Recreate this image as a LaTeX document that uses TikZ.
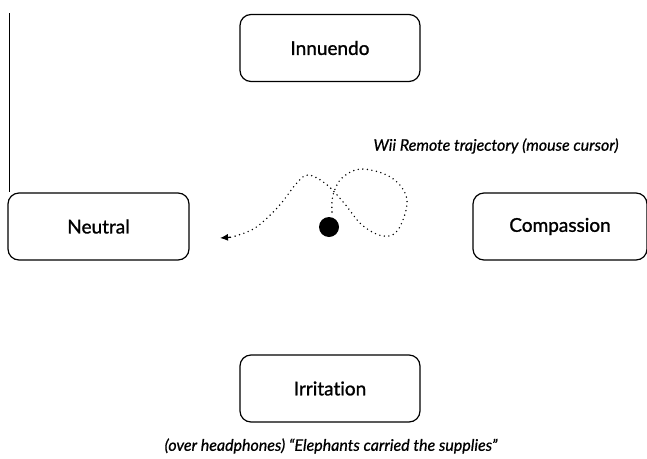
\documentclass[tikz,border=0pt]{standalone}
\usepackage{fontspec}
\setmainfont{Lato}
\newfontfamily\boxfont{Lato}[FakeBold=1.2,Ligatures=NoCommon]
\newfontfamily\lblfont{Lato}[FakeBold=0.8,Ligatures=NoCommon]
\usetikzlibrary{arrows.meta}
\begin{document}
\begin{tikzpicture}[x=1pt,y=-1pt,
  emobox/.style={draw=black,line width=1.2pt,rounded corners=11pt,minimum width=180pt,minimum height=67pt,font=\boxfont\fontsize{19}{21}\selectfont,inner sep=0pt},
  traj/.style={line width=1.6pt,dash pattern=on 0pt off 4.6pt,line cap=round},
  lbl/.style={font=\lblfont\itshape\fontsize{16}{18}\selectfont,inner sep=0pt}]
\useasboundingbox (0,0) rectangle (647,458);
\node[emobox] (innuendo) at (330,48) {Innuendo};
\node[emobox,minimum width=181pt] (neutral) at (98.5,226.5) {Neutral};
\node[emobox,minimum width=174pt] (compassion) at (560,226.5) {Compassion};
\node[emobox] (irritation) at (330,388.5) {Irritation};
\draw[line width=1pt] (9,13) -- (neutral.north west -| 9,0);
\node[lbl] (trajlabel) at (496,146) {Wii Remote trajectory (mouse cursor)};
\node[lbl] (caption) at (331,446) {(over headphones) “Elephants carried the supplies”};
\node[circle,fill=black,minimum size=20pt,inner sep=0pt] (dot) at (329,227) {};
\coordinate (trajend) at (228,237);
\draw[traj] plot[smooth,tension=0.6] coordinates {(332,212) (333,195) (342,178) (362,169) (392,178) (407,200) (398,230) (383,236) (362,225) (344,203) (326,184) (308,175) (296,184) (278,207) (255,228) (232,237)};
\draw[-{Latex[length=8pt,width=7pt]},line width=1.2pt] (231,237.2) -- (220,238);
\end{tikzpicture}
\end{document}
